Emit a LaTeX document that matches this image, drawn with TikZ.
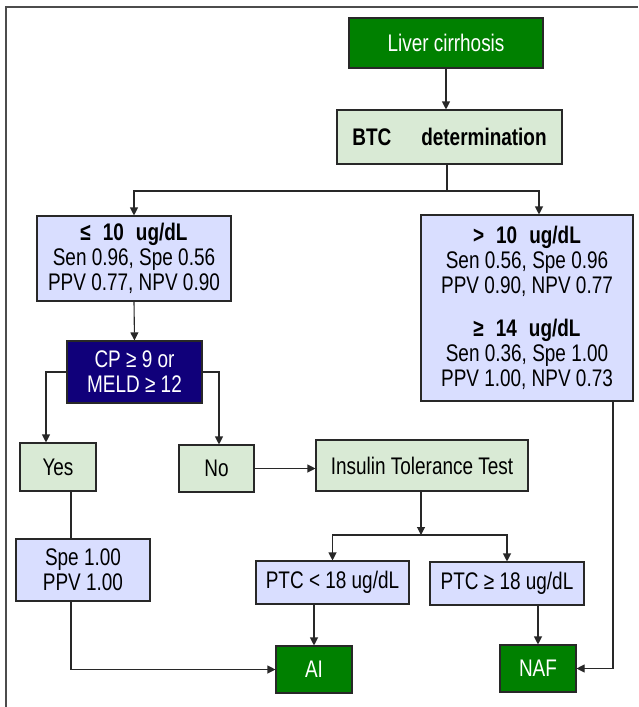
\documentclass[tikz,border=0pt]{standalone}
\usepackage{fontspec}
\setmainfont{Liberation Sans}[FakeStretch=0.79]
\usetikzlibrary{arrows.meta}
\definecolor{dgreen}{RGB}{0,128,0}
\definecolor{lgreen}{RGB}{217,234,213}
\definecolor{lblue}{RGB}{217,222,255}
\definecolor{navy}{RGB}{16,0,122}
\definecolor{edgec}{RGB}{40,40,40}
\begin{document}
\begin{tikzpicture}[x=1pt,y=-1pt,
  box/.style={draw=edgec, line width=1.1pt, rectangle, inner sep=0pt, align=center,
    font=\fontsize{24}{25}\selectfont},
  darkbox/.style={box, fill=dgreen, text=white},
  navybox/.style={box, fill=navy, text=white},
  greenbox/.style={box, fill=lgreen, text=black},
  bluebox/.style={box, fill=lblue, text=black},
  conn/.style={draw=edgec, line width=1.1pt},
  arr/.style={conn, -{Triangle[length=8pt,width=8pt]}},
  frameline/.style={draw=black!70, line width=2pt}
]
\useasboundingbox (0,0) rectangle (638,707);
\draw[frameline] (5,7) -- (638,7);
\draw[frameline] (6,7) -- (6,707);

\node[darkbox, minimum width=194pt, minimum height=50pt] (liver) at (446,43) {Liver cirrhosis};
\node[greenbox, minimum width=225pt, minimum height=54pt] (btc) at (449.5,137) {\textbf{BTC\hspace{30pt}determination}};
\node[bluebox, minimum width=194pt, minimum height=85pt] (le10) at (134,258.5)
  {\textbf{≤\hspace{12pt}10\hspace{12pt}ug/dL}\\Sen 0.96, Spe 0.56\\PPV 0.77, NPV 0.90};
\node[bluebox, minimum width=212pt, minimum height=186pt] (gt10) at (527,308)
  {\textbf{>\hspace{12pt}10\hspace{12pt}ug/dL}\\Sen 0.56, Spe 0.96\\PPV 0.90, NPV 0.77\\[18pt]\textbf{≥\hspace{12pt}14\hspace{12pt}ug/dL}\\Sen 0.36, Spe 1.00\\PPV 1.00, NPV 0.73};
\node[navybox, minimum width=135pt, minimum height=62pt] (cp) at (134.5,372) {CP ≥ 9 or\\MELD ≥ 12};
\node[greenbox, minimum width=76pt, minimum height=48pt] (yes) at (58,467) {Yes};
\node[greenbox, minimum width=75pt, minimum height=47pt] (no) at (216.5,468.5) {No};
\node[greenbox, minimum width=212pt, minimum height=51pt] (itt) at (422,465.5) {Insulin Tolerance Test};
\node[bluebox, minimum width=134pt, minimum height=62pt] (spe) at (83,570) {Spe 1.00\\PPV 1.00};
\node[bluebox, minimum width=153pt, minimum height=43pt] (ptcl) at (332.5,582.5) {PTC < 18 ug/dL};
\node[bluebox, minimum width=154pt, minimum height=43pt] (ptcg) at (507,583.5) {PTC ≥ 18 ug/dL};
\node[darkbox, minimum width=76pt, minimum height=47pt] (ai) at (314,669.5) {AI};
\node[darkbox, minimum width=76pt, minimum height=47pt] (naf) at (538,668.5) {NAF};

\coordinate (j1) at (447,191);
\coordinate (j2) at (421,535);

\draw[arr] (liver.south) -- (liver.south |- btc.north);
\draw[conn] (btc.south -| j1) -- (j1);
\draw[arr] (j1) -| (le10.north);
\draw[arr] (j1) -| ([xshift=12pt]gt10.north);
\draw[arr] (le10.south) -- (cp.north);
\draw[arr] (cp.west) -| ([xshift=-12pt]yes.north);
\draw[arr] (cp.east) -| ([xshift=2.5pt]no.north);
\draw[arr] (no.east) -- (no.east -| itt.west);
\draw[arr] (itt.south -| j2) -- (j2);
\draw[arr] (j2) -| (ptcl.north);
\draw[arr] (j2) -| (ptcg.north);
\draw[conn] ([xshift=13pt]yes.south) -- ([xshift=13pt]yes.south |- spe.north);
\draw[arr] ([xshift=-12pt]spe.south) |- (ai.west);
\draw[arr] (ai.north |- ptcl.south) -- (ai.north);
\draw[arr] (naf.north |- ptcg.south) -- (naf.north);
\draw[arr] ([xshift=86pt]gt10.south) |- (naf.east);
\end{tikzpicture}
\end{document}
